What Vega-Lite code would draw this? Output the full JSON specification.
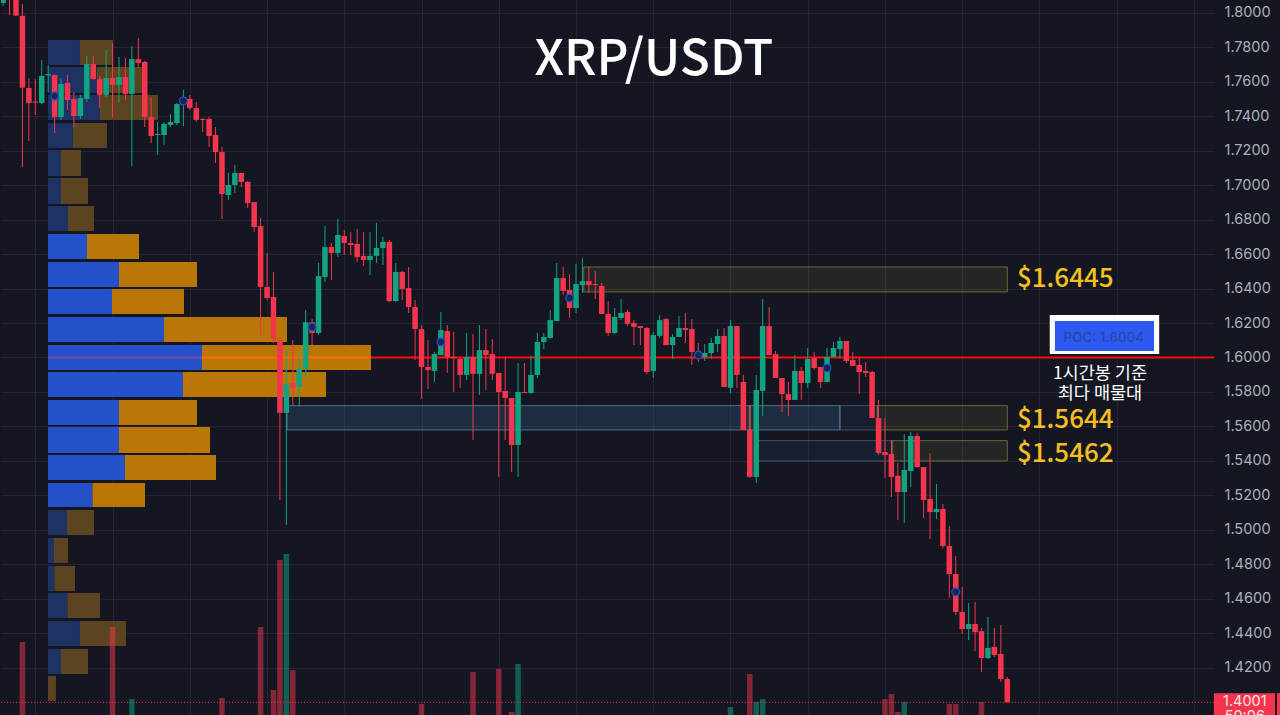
{
  "$schema": "https://vega.github.io/schema/vega-lite/v6.json",
  "description": "XRP/USDT 1h candles with volume profile",
  "width": 1213,
  "height": 715,
  "padding": 0,
  "autosize": {"type": "pad"},
  "background": "#141722",
  "config": {"view": {"stroke": null}, "legend": {"disable": true}},
  "datasets": {
    "candles": [
      {"t":-2,"o":1.8055,"h":1.8096,"l":1.8037,"c":1.8084,"dir":"up"},
      {"t":-1,"o":1.8101,"h":1.8107,"l":1.7985,"c":1.8078,"dir":"down"},
      {"t":0,"o":1.8078,"h":1.8119,"l":1.7980,"c":1.7982,"dir":"down"},
      {"t":1,"o":1.7981,"h":1.8049,"l":1.7104,"c":1.7564,"dir":"down","vol":730},
      {"t":2,"o":1.7562,"h":1.7620,"l":1.7255,"c":1.7475,"dir":"down"},
      {"t":3,"o":1.7484,"h":1.7614,"l":1.7406,"c":1.7478,"dir":"down"},
      {"t":4,"o":1.7475,"h":1.7725,"l":1.7469,"c":1.7632,"dir":"up"},
      {"t":5,"o":1.7635,"h":1.7696,"l":1.7539,"c":1.7643,"dir":"up"},
      {"t":6,"o":1.7638,"h":1.7640,"l":1.7301,"c":1.7394,"dir":"down"},
      {"t":7,"o":1.7394,"h":1.7620,"l":1.7377,"c":1.7586,"dir":"up"},
      {"t":8,"o":1.7591,"h":1.7638,"l":1.7435,"c":1.7493,"dir":"down"},
      {"t":9,"o":1.7499,"h":1.7539,"l":1.7336,"c":1.7400,"dir":"down"},
      {"t":10,"o":1.7400,"h":1.7522,"l":1.7383,"c":1.7504,"dir":"up"},
      {"t":11,"o":1.7499,"h":1.7748,"l":1.7481,"c":1.7701,"dir":"up"},
      {"t":12,"o":1.7701,"h":1.7748,"l":1.7608,"c":1.7614,"dir":"down"},
      {"t":13,"o":1.7614,"h":1.7632,"l":1.7446,"c":1.7522,"dir":"down"},
      {"t":14,"o":1.7522,"h":1.7783,"l":1.7510,"c":1.7620,"dir":"up"},
      {"t":15,"o":1.7620,"h":1.7823,"l":1.7394,"c":1.7580,"dir":"down","vol":880},
      {"t":16,"o":1.7580,"h":1.7742,"l":1.7475,"c":1.7626,"dir":"up"},
      {"t":17,"o":1.7626,"h":1.7736,"l":1.7493,"c":1.7528,"dir":"down"},
      {"t":18,"o":1.7528,"h":1.7806,"l":1.7110,"c":1.7730,"dir":"up","vol":160},
      {"t":19,"o":1.7730,"h":1.7852,"l":1.7678,"c":1.7707,"dir":"down"},
      {"t":20,"o":1.7713,"h":1.7719,"l":1.7336,"c":1.7394,"dir":"down"},
      {"t":21,"o":1.7394,"h":1.7510,"l":1.7243,"c":1.7284,"dir":"down"},
      {"t":22,"o":1.7290,"h":1.7365,"l":1.7174,"c":1.7296,"dir":"up"},
      {"t":23,"o":1.7290,"h":1.7365,"l":1.7232,"c":1.7354,"dir":"up"},
      {"t":24,"o":1.7348,"h":1.7412,"l":1.7336,"c":1.7365,"dir":"up"},
      {"t":25,"o":1.7359,"h":1.7475,"l":1.7348,"c":1.7469,"dir":"up"},
      {"t":26,"o":1.7469,"h":1.7551,"l":1.7342,"c":1.7493,"dir":"up"},
      {"t":27,"o":1.7499,"h":1.7522,"l":1.7435,"c":1.7446,"dir":"down"},
      {"t":28,"o":1.7446,"h":1.7481,"l":1.7365,"c":1.7377,"dir":"down"},
      {"t":29,"o":1.7383,"h":1.7388,"l":1.7307,"c":1.7377,"dir":"down"},
      {"t":30,"o":1.7383,"h":1.7394,"l":1.7220,"c":1.7284,"dir":"down"},
      {"t":31,"o":1.7290,"h":1.7336,"l":1.7128,"c":1.7191,"dir":"down"},
      {"t":32,"o":1.7191,"h":1.7220,"l":1.6803,"c":1.6948,"dir":"down","vol":170},
      {"t":33,"o":1.6942,"h":1.7070,"l":1.6913,"c":1.7000,"dir":"up"},
      {"t":34,"o":1.7000,"h":1.7116,"l":1.6954,"c":1.7070,"dir":"up"},
      {"t":35,"o":1.7070,"h":1.7070,"l":1.6988,"c":1.7018,"dir":"down"},
      {"t":36,"o":1.7018,"h":1.7023,"l":1.6866,"c":1.6895,"dir":"down"},
      {"t":37,"o":1.6901,"h":1.6901,"l":1.6727,"c":1.6756,"dir":"down"},
      {"t":38,"o":1.6762,"h":1.6809,"l":1.6130,"c":1.6409,"dir":"down","vol":880},
      {"t":39,"o":1.6409,"h":1.6606,"l":1.6333,"c":1.6345,"dir":"down"},
      {"t":40,"o":1.6351,"h":1.6496,"l":1.6084,"c":1.6107,"dir":"down","vol":250},
      {"t":41,"o":1.6101,"h":1.6119,"l":1.5174,"c":1.5679,"dir":"down","vol":1550},
      {"t":42,"o":1.5679,"h":1.6043,"l":1.5029,"c":1.5847,"dir":"up","vol":1610},
      {"t":43,"o":1.5853,"h":1.6101,"l":1.5725,"c":1.5824,"dir":"down","vol":450},
      {"t":44,"o":1.5829,"h":1.6003,"l":1.5713,"c":1.5933,"dir":"up"},
      {"t":45,"o":1.5933,"h":1.6275,"l":1.5887,"c":1.6205,"dir":"up"},
      {"t":46,"o":1.6205,"h":1.6223,"l":1.6072,"c":1.6142,"dir":"down"},
      {"t":47,"o":1.6142,"h":1.6548,"l":1.6130,"c":1.6472,"dir":"up"},
      {"t":48,"o":1.6467,"h":1.6762,"l":1.6438,"c":1.6640,"dir":"up"},
      {"t":49,"o":1.6640,"h":1.6664,"l":1.6450,"c":1.6606,"dir":"down"},
      {"t":50,"o":1.6606,"h":1.6803,"l":1.6583,"c":1.6710,"dir":"up"},
      {"t":51,"o":1.6704,"h":1.6739,"l":1.6594,"c":1.6664,"dir":"down"},
      {"t":52,"o":1.6664,"h":1.6727,"l":1.6594,"c":1.6652,"dir":"down"},
      {"t":53,"o":1.6658,"h":1.6745,"l":1.6554,"c":1.6583,"dir":"down"},
      {"t":54,"o":1.6589,"h":1.6727,"l":1.6530,"c":1.6565,"dir":"down"},
      {"t":55,"o":1.6565,"h":1.6727,"l":1.6478,"c":1.6589,"dir":"up"},
      {"t":56,"o":1.6589,"h":1.6780,"l":1.6548,"c":1.6635,"dir":"up"},
      {"t":57,"o":1.6635,"h":1.6699,"l":1.6536,"c":1.6670,"dir":"up"},
      {"t":58,"o":1.6670,"h":1.6681,"l":1.6322,"c":1.6327,"dir":"down"},
      {"t":59,"o":1.6327,"h":1.6548,"l":1.6322,"c":1.6496,"dir":"up"},
      {"t":60,"o":1.6496,"h":1.6501,"l":1.6333,"c":1.6397,"dir":"down"},
      {"t":61,"o":1.6403,"h":1.6525,"l":1.6258,"c":1.6293,"dir":"down"},
      {"t":62,"o":1.6293,"h":1.6333,"l":1.5986,"c":1.6165,"dir":"down"},
      {"t":63,"o":1.6165,"h":1.6188,"l":1.5760,"c":1.5945,"dir":"down","vol":110},
      {"t":64,"o":1.5945,"h":1.6101,"l":1.5817,"c":1.5927,"dir":"down"},
      {"t":65,"o":1.5922,"h":1.6032,"l":1.5858,"c":1.6020,"dir":"up"},
      {"t":66,"o":1.6014,"h":1.6264,"l":1.6014,"c":1.6159,"dir":"up"},
      {"t":67,"o":1.6153,"h":1.6188,"l":1.5910,"c":1.6003,"dir":"down"},
      {"t":68,"o":1.6003,"h":1.6148,"l":1.5800,"c":1.5997,"dir":"down"},
      {"t":69,"o":1.5991,"h":1.5997,"l":1.5824,"c":1.5899,"dir":"down"},
      {"t":70,"o":1.5899,"h":1.6142,"l":1.5870,"c":1.6003,"dir":"up"},
      {"t":71,"o":1.6003,"h":1.6136,"l":1.5522,"c":1.5905,"dir":"down","vol":430},
      {"t":72,"o":1.5905,"h":1.6188,"l":1.5783,"c":1.6043,"dir":"up"},
      {"t":73,"o":1.6043,"h":1.6165,"l":1.5812,"c":1.6014,"dir":"down"},
      {"t":74,"o":1.6020,"h":1.6107,"l":1.5870,"c":1.5905,"dir":"down"},
      {"t":75,"o":1.5910,"h":1.5910,"l":1.5308,"c":1.5800,"dir":"down","vol":460},
      {"t":76,"o":1.5806,"h":1.6003,"l":1.5522,"c":1.5765,"dir":"down"},
      {"t":77,"o":1.5765,"h":1.5765,"l":1.5336,"c":1.5493,"dir":"down","vol":30},
      {"t":78,"o":1.5493,"h":1.5968,"l":1.5308,"c":1.5800,"dir":"up","vol":510},
      {"t":79,"o":1.5800,"h":1.5968,"l":1.5794,"c":1.5794,"dir":"down"},
      {"t":80,"o":1.5794,"h":1.6009,"l":1.5789,"c":1.5899,"dir":"up"},
      {"t":81,"o":1.5899,"h":1.6142,"l":1.5881,"c":1.6090,"dir":"up"},
      {"t":82,"o":1.6090,"h":1.6142,"l":1.6049,"c":1.6119,"dir":"up"},
      {"t":83,"o":1.6113,"h":1.6275,"l":1.6107,"c":1.6217,"dir":"up"},
      {"t":84,"o":1.6211,"h":1.6548,"l":1.6211,"c":1.6461,"dir":"up"},
      {"t":85,"o":1.6461,"h":1.6525,"l":1.6362,"c":1.6386,"dir":"down"},
      {"t":86,"o":1.6392,"h":1.6484,"l":1.6229,"c":1.6287,"dir":"down"},
      {"t":87,"o":1.6287,"h":1.6542,"l":1.6258,"c":1.6426,"dir":"up"},
      {"t":88,"o":1.6420,"h":1.6577,"l":1.6374,"c":1.6443,"dir":"up"},
      {"t":89,"o":1.6443,"h":1.6525,"l":1.6374,"c":1.6420,"dir":"down"},
      {"t":90,"o":1.6426,"h":1.6501,"l":1.6339,"c":1.6420,"dir":"down"},
      {"t":91,"o":1.6415,"h":1.6432,"l":1.6252,"c":1.6252,"dir":"down"},
      {"t":92,"o":1.6252,"h":1.6327,"l":1.6125,"c":1.6142,"dir":"down"},
      {"t":93,"o":1.6142,"h":1.6287,"l":1.6136,"c":1.6235,"dir":"up"},
      {"t":94,"o":1.6229,"h":1.6339,"l":1.6217,"c":1.6258,"dir":"up"},
      {"t":95,"o":1.6264,"h":1.6275,"l":1.6182,"c":1.6194,"dir":"down"},
      {"t":96,"o":1.6200,"h":1.6217,"l":1.6072,"c":1.6177,"dir":"down"},
      {"t":97,"o":1.6182,"h":1.6182,"l":1.6072,"c":1.6171,"dir":"down"},
      {"t":98,"o":1.6171,"h":1.6177,"l":1.5905,"c":1.5916,"dir":"down"},
      {"t":99,"o":1.5922,"h":1.6148,"l":1.5881,"c":1.6130,"dir":"up"},
      {"t":100,"o":1.6125,"h":1.6246,"l":1.6113,"c":1.6217,"dir":"up"},
      {"t":101,"o":1.6223,"h":1.6229,"l":1.6072,"c":1.6072,"dir":"down"},
      {"t":102,"o":1.6072,"h":1.6136,"l":1.5991,"c":1.6119,"dir":"up"},
      {"t":103,"o":1.6119,"h":1.6240,"l":1.6119,"c":1.6171,"dir":"up"},
      {"t":104,"o":1.6171,"h":1.6258,"l":1.6084,"c":1.6159,"dir":"down"},
      {"t":105,"o":1.6165,"h":1.6223,"l":1.5957,"c":1.6032,"dir":"down"},
      {"t":106,"o":1.6032,"h":1.6084,"l":1.5974,"c":1.5997,"dir":"down"},
      {"t":107,"o":1.6003,"h":1.6078,"l":1.5980,"c":1.6026,"dir":"up"},
      {"t":108,"o":1.6026,"h":1.6113,"l":1.5991,"c":1.6084,"dir":"up"},
      {"t":109,"o":1.6078,"h":1.6165,"l":1.6032,"c":1.6125,"dir":"up"},
      {"t":110,"o":1.6125,"h":1.6171,"l":1.5829,"c":1.5829,"dir":"down"},
      {"t":111,"o":1.5824,"h":1.6217,"l":1.5794,"c":1.6182,"dir":"up","vol":80},
      {"t":112,"o":1.6182,"h":1.6182,"l":1.5824,"c":1.5899,"dir":"down"},
      {"t":113,"o":1.5858,"h":1.5899,"l":1.5580,"c":1.5580,"dir":"down"},
      {"t":114,"o":1.5580,"h":1.5725,"l":1.5302,"c":1.5308,"dir":"down","vol":410},
      {"t":115,"o":1.5308,"h":1.5899,"l":1.5273,"c":1.5812,"dir":"up","vol":130},
      {"t":116,"o":1.5806,"h":1.6339,"l":1.5661,"c":1.6182,"dir":"up","vol":160},
      {"t":117,"o":1.6182,"h":1.6293,"l":1.6014,"c":1.6014,"dir":"down"},
      {"t":118,"o":1.6020,"h":1.6038,"l":1.5881,"c":1.5881,"dir":"down"},
      {"t":119,"o":1.5881,"h":1.5881,"l":1.5684,"c":1.5788,"dir":"down"},
      {"t":120,"o":1.5788,"h":1.5858,"l":1.5661,"c":1.5754,"dir":"down"},
      {"t":121,"o":1.5754,"h":1.6014,"l":1.5754,"c":1.5922,"dir":"up"},
      {"t":122,"o":1.5922,"h":1.5945,"l":1.5754,"c":1.5852,"dir":"down"},
      {"t":123,"o":1.5852,"h":1.6055,"l":1.5824,"c":1.5991,"dir":"up"},
      {"t":124,"o":1.5997,"h":1.6032,"l":1.5927,"c":1.5939,"dir":"down"},
      {"t":125,"o":1.5945,"h":1.5945,"l":1.5824,"c":1.5858,"dir":"down"},
      {"t":126,"o":1.5858,"h":1.6055,"l":1.5858,"c":1.6003,"dir":"up"},
      {"t":127,"o":1.6003,"h":1.6090,"l":1.6003,"c":1.6055,"dir":"up"},
      {"t":128,"o":1.6049,"h":1.6119,"l":1.5997,"c":1.6096,"dir":"up"},
      {"t":129,"o":1.6096,"h":1.6096,"l":1.5968,"c":1.5980,"dir":"down"},
      {"t":130,"o":1.5986,"h":1.6032,"l":1.5951,"c":1.5951,"dir":"down"},
      {"t":131,"o":1.5957,"h":1.5997,"l":1.5788,"c":1.5916,"dir":"down"},
      {"t":132,"o":1.5922,"h":1.5974,"l":1.5887,"c":1.5910,"dir":"down"},
      {"t":133,"o":1.5916,"h":1.5922,"l":1.5649,"c":1.5649,"dir":"down"},
      {"t":134,"o":1.5649,"h":1.5754,"l":1.5435,"c":1.5446,"dir":"down"},
      {"t":135,"o":1.5452,"h":1.5649,"l":1.5302,"c":1.5435,"dir":"down","vol":160},
      {"t":136,"o":1.5441,"h":1.5522,"l":1.5191,"c":1.5308,"dir":"down","vol":210},
      {"t":137,"o":1.5314,"h":1.5388,"l":1.5058,"c":1.5220,"dir":"down","vol":30},
      {"t":138,"o":1.5220,"h":1.5556,"l":1.5041,"c":1.5348,"dir":"up","vol":130},
      {"t":139,"o":1.5342,"h":1.5568,"l":1.5249,"c":1.5545,"dir":"up"},
      {"t":140,"o":1.5545,"h":1.5562,"l":1.5360,"c":1.5365,"dir":"down"},
      {"t":141,"o":1.5365,"h":1.5365,"l":1.5070,"c":1.5174,"dir":"down"},
      {"t":142,"o":1.5180,"h":1.5446,"l":1.4948,"c":1.5104,"dir":"down"},
      {"t":143,"o":1.5104,"h":1.5267,"l":1.5064,"c":1.5122,"dir":"up"},
      {"t":144,"o":1.5122,"h":1.5151,"l":1.4895,"c":1.4907,"dir":"down"},
      {"t":145,"o":1.4907,"h":1.5023,"l":1.4606,"c":1.4745,"dir":"down","vol":110},
      {"t":146,"o":1.4745,"h":1.4849,"l":1.4507,"c":1.4525,"dir":"down","vol":110},
      {"t":147,"o":1.4525,"h":1.4669,"l":1.4397,"c":1.4426,"dir":"down"},
      {"t":148,"o":1.4426,"h":1.4577,"l":1.4362,"c":1.4455,"dir":"up"},
      {"t":149,"o":1.4455,"h":1.4583,"l":1.4298,"c":1.4408,"dir":"down"},
      {"t":150,"o":1.4414,"h":1.4432,"l":1.4177,"c":1.4258,"dir":"down","vol":130},
      {"t":151,"o":1.4258,"h":1.4496,"l":1.4252,"c":1.4316,"dir":"up"},
      {"t":152,"o":1.4322,"h":1.4432,"l":1.4264,"c":1.4275,"dir":"down"},
      {"t":153,"o":1.4281,"h":1.4449,"l":1.4119,"c":1.4136,"dir":"down"},
      {"t":154,"o":1.4136,"h":1.4148,"l":1.4001,"c":1.4001,"dir":"down"}
    ],
    "profile": [
      {"low":1.7696,"high":1.7841,"from":4.97,"to":9.94,"part":"buy_dim"},
      {"low":1.7696,"high":1.7841,"from":9.94,"to":15.07,"part":"sell_dim"},
      {"low":1.7533,"high":1.7684,"from":4.97,"to":12.58,"part":"buy_dim"},
      {"low":1.7533,"high":1.7684,"from":12.58,"to":19.57,"part":"sell_dim"},
      {"low":1.7377,"high":1.7522,"from":4.97,"to":13.05,"part":"buy_dim"},
      {"low":1.7377,"high":1.7522,"from":13.05,"to":22.06,"part":"sell_dim"},
      {"low":1.7214,"high":1.7359,"from":4.97,"to":8.85,"part":"buy_dim"},
      {"low":1.7214,"high":1.7359,"from":8.85,"to":14.14,"part":"sell_dim"},
      {"low":1.7052,"high":1.7203,"from":4.97,"to":6.99,"part":"buy_dim"},
      {"low":1.7052,"high":1.7203,"from":6.99,"to":10.1,"part":"sell_dim"},
      {"low":1.6890,"high":1.7041,"from":4.97,"to":6.99,"part":"buy_dim"},
      {"low":1.6890,"high":1.7041,"from":6.99,"to":11.19,"part":"sell_dim"},
      {"low":1.6733,"high":1.6878,"from":4.97,"to":8.08,"part":"buy_dim"},
      {"low":1.6733,"high":1.6878,"from":8.08,"to":12.12,"part":"sell_dim"},
      {"low":1.6571,"high":1.6716,"from":4.97,"to":11.03,"part":"buy"},
      {"low":1.6571,"high":1.6716,"from":11.03,"to":19.11,"part":"sell"},
      {"low":1.6409,"high":1.6554,"from":4.97,"to":16.0,"part":"buy"},
      {"low":1.6409,"high":1.6554,"from":16.0,"to":28.12,"part":"sell"},
      {"low":1.6252,"high":1.6397,"from":4.97,"to":14.91,"part":"buy"},
      {"low":1.6252,"high":1.6397,"from":14.91,"to":26.1,"part":"sell"},
      {"low":1.6090,"high":1.6235,"from":4.97,"to":22.99,"part":"buy"},
      {"low":1.6090,"high":1.6235,"from":22.99,"to":42.1,"part":"sell"},
      {"low":1.5927,"high":1.6072,"from":4.97,"to":28.9,"part":"buy"},
      {"low":1.5927,"high":1.6072,"from":28.9,"to":55.15,"part":"sell"},
      {"low":1.5771,"high":1.5916,"from":4.97,"to":25.94,"part":"buy"},
      {"low":1.5771,"high":1.5916,"from":25.94,"to":48.16,"part":"sell"},
      {"low":1.5609,"high":1.5754,"from":4.97,"to":16.0,"part":"buy"},
      {"low":1.5609,"high":1.5754,"from":16.0,"to":28.12,"part":"sell"},
      {"low":1.5446,"high":1.5597,"from":4.97,"to":16.0,"part":"buy"},
      {"low":1.5446,"high":1.5597,"from":16.0,"to":30.14,"part":"sell"},
      {"low":1.5290,"high":1.5435,"from":4.97,"to":16.93,"part":"buy"},
      {"low":1.5290,"high":1.5435,"from":16.93,"to":31.07,"part":"sell"},
      {"low":1.5133,"high":1.5273,"from":4.97,"to":11.88,"part":"buy"},
      {"low":1.5133,"high":1.5273,"from":11.88,"to":20.04,"part":"sell"},
      {"low":1.4971,"high":1.5116,"from":4.97,"to":7.92,"part":"buy_dim"},
      {"low":1.4971,"high":1.5116,"from":7.92,"to":12.12,"part":"sell_dim"},
      {"low":1.4809,"high":1.4954,"from":4.97,"to":5.9,"part":"buy_dim"},
      {"low":1.4809,"high":1.4954,"from":5.9,"to":8.08,"part":"sell_dim"},
      {"low":1.4646,"high":1.4791,"from":4.97,"to":5.98,"part":"buy_dim"},
      {"low":1.4646,"high":1.4791,"from":5.98,"to":9.17,"part":"sell_dim"},
      {"low":1.4490,"high":1.4635,"from":4.97,"to":8.0,"part":"buy_dim"},
      {"low":1.4490,"high":1.4635,"from":8.0,"to":13.05,"part":"sell_dim"},
      {"low":1.4327,"high":1.4472,"from":4.97,"to":9.94,"part":"buy_dim"},
      {"low":1.4327,"high":1.4472,"from":9.94,"to":17.09,"part":"sell_dim"},
      {"low":1.4165,"high":1.4310,"from":4.97,"to":6.99,"part":"buy_dim"},
      {"low":1.4165,"high":1.4310,"from":6.99,"to":11.19,"part":"sell_dim"},
      {"low":1.4008,"high":1.4153,"from":4.97,"to":6.21,"part":"sell_dim"}
    ],
    "zones": [
      {"from":88.2,"to":154,"low":1.6380,"high":1.6525,"kind":"resistance"},
      {"from":133.8,"to":154,"low":1.5580,"high":1.5721,"kind":"resistance"},
      {"from":113.9,"to":114.1,"low":1.5580,"high":1.5721,"kind":"resistance"},
      {"from":136.1,"to":154,"low":1.5400,"high":1.5518,"kind":"resistance"},
      {"from":42.1,"to":128,"low":1.5580,"high":1.5721,"kind":"fvg"},
      {"from":128,"to":133.8,"low":1.5580,"high":1.5721,"kind":"fvg_old"},
      {"from":115.3,"to":136.1,"low":1.5400,"high":1.5518,"kind":"fvg_old"}
    ],
    "poc_line": [
      {"from":4.97,"to":28.9,"price":1.6,"seg":"over_buy"},
      {"from":28.9,"to":55.15,"price":1.6,"seg":"over_sell"},
      {"from":55.15,"to":186.1,"price":1.6,"seg":"clear"}
    ],
    "markers": [
      {"t":6,"price":1.7516},
      {"t":26,"price":1.7487},
      {"t":46,"price":1.6177},
      {"t":66,"price":1.6090},
      {"t":86,"price":1.6345},
      {"t":106,"price":1.6014},
      {"t":126,"price":1.5939},
      {"t":146,"price":1.4641}
    ]
  },
  "resolve": {"scale": {"y": "independent"}},
  "layer": [
    {
      "layer": [
        {
          "data": {"name": "profile"},
          "mark": {"type": "rect"},
          "encoding": {
            "x": {
              "field": "from",
              "type": "quantitative",
              "scale": {"domain": [-2.33, 186.116], "nice": false, "zero": false, "padding": 0},
              "axis": {
                "title": null,
                "values": [3,15,27,39,51,63,75,87,99,111,123,135,147,159,171,183],
                "tickCount": 40,
                "labels": false,
                "ticks": false,
                "domain": false,
                "grid": true,
                "gridColor": "#232631",
                "gridWidth": 1
              }
            },
            "x2": {"field": "to"},
            "y": {
              "field": "low",
              "type": "quantitative",
              "scale": {"domain": [1.39275, 1.80725], "nice": false, "zero": false},
              "axis": {
                "title": null,
                "orient": "right",
                "values": [1.42,1.44,1.46,1.48,1.5,1.52,1.54,1.56,1.58,1.6,1.62,1.64,1.66,1.68,1.7,1.72,1.74,1.76,1.78,1.8],
                "tickCount": 40,
                "format": ".4f",
                "domain": false,
                "ticks": false,
                "grid": true,
                "gridColor": "#232631",
                "gridWidth": 1,
                "labelColor": "#adb0ba",
                "labelFont": "Inter",
                "labelFontSize": 14.5,
                "labelPadding": 10,
                "labelOverlap": false,
                "labelBound": false,
                "labelFlush": false
              }
            },
            "y2": {"field": "high"},
            "fill": {
              "field": "part",
              "type": "nominal",
              "scale": {
                "domain": ["buy","sell","buy_dim","sell_dim"],
                "range": ["#2450c9","#b97708","#1f3264","#5c4420"]
              }
            }
          }
        },
        {
          "data": {"name": "zones"},
          "mark": {"type": "rect", "strokeWidth": 1},
          "encoding": {
            "x": {"field": "from", "type": "quantitative"},
            "x2": {"field": "to"},
            "y": {"field": "low", "type": "quantitative"},
            "y2": {"field": "high"},
            "color": {
              "field": "kind",
              "type": "nominal",
              "scale": {
                "domain": ["up","down","resistance","fvg","fvg_old","over_buy","over_sell","clear"],
                "range": ["#12a383","#f5354e","rgba(190,180,70,0.1)","rgba(70,130,190,0.2)","rgba(70,130,190,0.08)","#7f4ba6","#ff6a00","#ff0d0d"]
              }
            },
            "stroke": {
              "field": "kind",
              "type": "nominal",
              "scale": {
                "domain": ["resistance","fvg","fvg_old"],
                "range": ["rgba(190,180,70,0.5)","rgba(125,165,195,0.6)","rgba(125,165,195,0.4)"]
              }
            }
          }
        },
        {
          "data": {"name": "poc_line"},
          "mark": {"type": "rule", "strokeWidth": 2.2},
          "encoding": {
            "x": {"field": "from", "type": "quantitative"},
            "x2": {"field": "to"},
            "y": {"field": "price", "type": "quantitative"},
            "color": {"field": "seg", "type": "nominal"}
          }
        }
      ]
    },
    {
      "data": {"name": "candles"},
      "transform": [{"filter": "datum.vol > 0"}],
      "mark": {"type": "bar", "size": 5.5, "opacity": 0.5, "orient": "vertical", "clip": true},
      "encoding": {
        "x": {"field": "t", "type": "quantitative"},
        "y": {
          "field": "vol",
          "type": "quantitative",
          "axis": null,
          "scale": {"domain": [0, 7150], "nice": false}
        },
        "color": {"field": "dir", "type": "nominal"}
      }
    },
    {
      "layer": [
        {
          "data": {"name": "candles"},
          "mark": {"type": "rule", "strokeWidth": 1, "clip": true},
          "encoding": {
            "x": {"field": "t", "type": "quantitative"},
            "y": {
              "field": "l",
              "type": "quantitative",
              "axis": null,
              "scale": {"domain": [1.39275, 1.80725], "nice": false, "zero": false}
            },
            "y2": {"field": "h"},
            "color": {"field": "dir", "type": "nominal"}
          }
        },
        {
          "data": {"name": "candles"},
          "mark": {"type": "bar", "size": 5.5, "orient": "vertical", "clip": true},
          "encoding": {
            "x": {"field": "t", "type": "quantitative"},
            "y": {"field": "o", "type": "quantitative", "axis": null},
            "y2": {"field": "c"},
            "color": {"field": "dir", "type": "nominal"}
          }
        },
        {
          "data": {"name": "markers"},
          "mark": {"type": "point", "filled": true, "size": 60, "fill": "#17264f", "stroke": "#2450c9", "strokeWidth": 1.2, "opacity": 1},
          "encoding": {
            "x": {"field": "t", "type": "quantitative"},
            "y": {"field": "price", "type": "quantitative", "axis": null}
          }
        },
        {
          "data": {"values": [{"from":-2.33,"to":186.1,"price":1.4001}]},
          "mark": {"type": "rule", "strokeWidth": 1, "strokeDash": [1, 2], "color": "#d63a4a"},
          "encoding": {
            "x": {"field": "from", "type": "quantitative"},
            "x2": {"field": "to"},
            "y": {"field": "price", "type": "quantitative", "axis": null}
          }
        },
        {
          "data": {"values": [
            {"from":186.1,"to":195.6,"low":1.39275,"high":1.4054},
            {"from":195.9,"to":196.7,"low":1.39275,"high":1.4054}
          ]},
          "mark": {"type": "rect", "color": "#f5354e"},
          "encoding": {
            "x": {"field": "from", "type": "quantitative"},
            "x2": {"field": "to"},
            "y": {"field": "low", "type": "quantitative", "axis": null},
            "y2": {"field": "high"}
          }
        },
        {
          "data": {"values": [{"t":190.9,"price":1.4001,"label":"1.4001"},{"t":190.9,"price":1.3916,"label":"50:06"}]},
          "mark": {"type": "text", "font": "Inter", "fontSize": 14.5, "color": "#f5e6e8", "align": "center", "baseline": "middle"},
          "encoding": {
            "x": {"field": "t", "type": "quantitative"},
            "y": {"field": "price", "type": "quantitative", "axis": null},
            "text": {"field": "label"}
          }
        },
        {
          "data": {"values": [{"from":160.6,"to":177.6,"low":1.6020,"high":1.6246}]},
          "mark": {"type": "rect", "color": "#ffffff"},
          "encoding": {
            "x": {"field": "from", "type": "quantitative"},
            "x2": {"field": "to"},
            "y": {"field": "low", "type": "quantitative", "axis": null},
            "y2": {"field": "high"}
          }
        },
        {
          "data": {"values": [{"from":161.4,"to":176.8,"low":1.6037,"high":1.6211}]},
          "mark": {"type": "rect", "color": "#2c5af0"},
          "encoding": {
            "x": {"field": "from", "type": "quantitative"},
            "x2": {"field": "to"},
            "y": {"field": "low", "type": "quantitative", "axis": null},
            "y2": {"field": "high"}
          }
        },
        {
          "data": {"values": [{"t":169.0,"price":1.6113,"label":"POC: 1.6004"}]},
          "mark": {"type": "text", "font": "Inter", "fontSize": 13.5, "fontWeight": 500, "color": "#2a46ad", "align": "center", "baseline": "middle"},
          "encoding": {
            "x": {"field": "t", "type": "quantitative"},
            "y": {"field": "price", "type": "quantitative", "axis": null},
            "text": {"field": "label"}
          }
        },
        {
          "data": {"values": [{"t":168.4,"price":1.5904,"label":"1시간봉 기준"},{"t":168.4,"price":1.5788,"label":"최다 매물대"}]},
          "mark": {"type": "text", "font": "Noto Sans CJK KR", "fontSize": 17.5, "fontWeight": 400, "color": "#ffffff", "align": "center", "baseline": "middle"},
          "encoding": {
            "x": {"field": "t", "type": "quantitative"},
            "y": {"field": "price", "type": "quantitative", "axis": null},
            "text": {"field": "label"}
          }
        },
        {
          "data": {"values": [
            {"t":155.5,"price":1.6455,"label":"$1.6445"},
            {"t":155.5,"price":1.5638,"label":"$1.5644"},
            {"t":155.5,"price":1.5440,"label":"$1.5462"}
          ]},
          "mark": {"type": "text", "font": "Noto Sans CJK KR", "fontSize": 26, "fontWeight": 500, "color": "#f5bf1f", "align": "left", "baseline": "middle"},
          "encoding": {
            "x": {"field": "t", "type": "quantitative"},
            "y": {"field": "price", "type": "quantitative", "axis": null},
            "text": {"field": "label"}
          }
        },
        {
          "data": {"values": [{"t":99.1,"price":1.7725,"label":"XRP/USDT"}]},
          "mark": {"type": "text", "font": "Noto Sans CJK KR", "fontSize": 49.5, "fontWeight": 500, "color": "#ffffff", "align": "center", "baseline": "middle"},
          "encoding": {
            "x": {"field": "t", "type": "quantitative"},
            "y": {"field": "price", "type": "quantitative", "axis": null},
            "text": {"field": "label"}
          }
        }
      ]
    }
  ]
}
